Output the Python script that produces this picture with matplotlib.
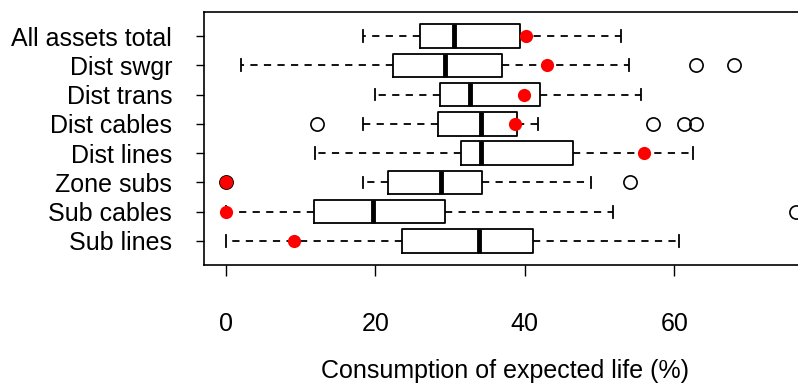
import numpy as np
import matplotlib.pyplot as plt

plt.rcParams['font.family'] = ['Liberation Sans', 'DejaVu Sans']

########## Data ##########

labels = ['All assets total', 'Dist swgr', 'Dist trans', 'Dist cables',
          'Dist lines', 'Zone subs', 'Sub cables', 'Sub lines']

whislo = [18.4, 2.0, 19.9, 18.4, 11.9, 18.4, 0.0, 0.0]
q1     = [25.9, 22.3, 28.6, 28.4, 31.5, 21.7, 11.8, 23.6]
med    = [30.5, 29.3, 32.7, 34.1, 34.1, 28.8, 19.7, 33.8]
q3     = [39.4, 36.9, 42.0, 39.0, 46.4, 34.3, 29.3, 41.1]
whishi = [52.9, 54.0, 55.5, 41.8, 62.5, 48.8, 51.8, 60.6]
fliers = [[], [62.9, 68.0], [], [12.2, 57.1, 61.3, 62.9],
          [], [0.0, 54.1], [76.3], []]
means  = [40.2, 42.9, 39.9, 38.7, 55.9, 0.0, 0.0, 9.1]

xticks = [0, 20, 40, 60]

########## Plotting ##########

fig = plt.figure(figsize=(7.98, 3.88), dpi=100)
ax = fig.add_axes([0.2556, 0.317, 0.771, 0.652])

# top row first, so positions count down
pos = np.arange(len(labels), 0, -1)

stats = []
for i in range(len(labels)):
    stats.append(dict(whislo=whislo[i], q1=q1[i], med=med[i], q3=q3[i],
                      whishi=whishi[i], fliers=fliers[i]))

ax.bxp(stats, positions=pos, orientation='horizontal', widths=0.8,
       boxprops=dict(color='black', linewidth=1.3),
       medianprops=dict(color='black', linewidth=3.5, solid_capstyle='butt'),
       whiskerprops=dict(color='black', linewidth=1.3, linestyle=(0, (4, 3.5))),
       capprops=dict(color='black', linewidth=1.3),
       capwidths=0.4,
       flierprops=dict(marker='o', markerfacecolor='none', markeredgecolor='black',
                       markersize=9.5, markeredgewidth=1.2))

# mean values as red dots
ax.scatter(means, pos, s=90, color='red', zorder=5, linewidths=0)

ax.set_xlim(-2.95, 79.4)
ax.set_ylim(0.18, 8.82)

ax.set_yticks(pos)
ax.set_yticklabels(labels, fontsize=18)
ax.set_xticks(xticks)
ax.set_xticklabels([str(t) for t in xticks], fontsize=18)
ax.tick_params(axis='x', length=8, width=1, pad=26)
ax.tick_params(axis='y', length=6, width=1, pad=17)
ax.set_xlabel('Consumption of expected life (%)', fontsize=18)
ax.xaxis.set_label_coords(0.49, -0.42)
ax.xaxis.label.set_va('center')

for s in ax.spines.values():
    s.set_linewidth(1.2)

plt.savefig('out.png', dpi=100)
